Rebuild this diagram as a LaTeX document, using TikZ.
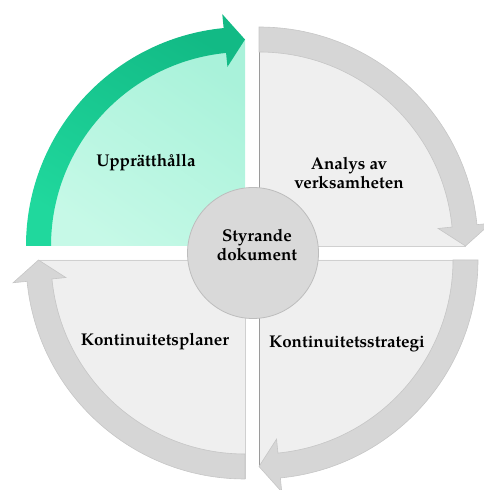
\documentclass[tikz,border=0pt]{standalone}
\usepackage{fontspec}
\setmainfont{texgyrepagella}[Extension=.otf, UprightFont=*-regular, BoldFont=*-bold]
\usetikzlibrary{calc}

\definecolor{mintA}{HTML}{A9F2DA}
\definecolor{mintB}{HTML}{C6F9E7}
\definecolor{greenA}{HTML}{20D89D}
\definecolor{greenB}{HTML}{12BA85}
\definecolor{paleGray}{HTML}{EFEFEF}
\definecolor{bandGray}{HTML}{D6D6D6}
\definecolor{bandEdge}{HTML}{C6C6C6}
\definecolor{coreFill}{HTML}{D9D9D9}
\definecolor{coreEdge}{HTML}{BDBDBD}
\definecolor{darkEdge}{HTML}{9A9A9A}
\definecolor{lightEdge}{HTML}{D0D0D0}

% ring geometry (pt)
\def\cyRout{219}
\def\cyRin{194}
\def\cyRmid{206.5}
\def\cyRhout{233}
\def\cyRhin{180}
\def\cyHead{5.6}

% curved arrow along a quarter ring: #1 corner, #2 start angle, #3 style
\newcommand{\cyclearrow}[3]{%
  \path[#3] ($(#1)+(#2:\cyRout)$)
    arc[start angle=#2, end angle={#2-90+\cyHead}, radius=\cyRout]
    -- ($(#1)+({#2-90+\cyHead}:\cyRhout)$)
    -- ($(#1)+({#2-90}:\cyRmid)$)
    -- ($(#1)+({#2-90+\cyHead}:\cyRhin)$)
    -- ($(#1)+({#2-90+\cyHead}:\cyRin)$)
    arc[start angle={#2-90+\cyHead}, end angle=#2, radius=\cyRin]
    -- cycle;}

% quarter sector behind an arrow: #1 corner, #2 start angle, #3 style
\newcommand{\cyclesector}[3]{%
  \path[#3] (#1) -- ($(#1)+(#2:\cyRmid)$)
    arc[start angle=#2, end angle={#2-90}, radius=\cyRmid] -- cycle;}

\tikzset{
  label/.style={font=\bfseries\fontsize{17}{19.5}\selectfont, align=center, text=black},
  grayband/.style={fill=bandGray, draw=bandEdge, line width=0.6pt},
  greenband/.style={draw=none, top color=greenB, bottom color=greenA, shading angle=-30},
}

\begin{document}
\begin{tikzpicture}[x=1pt,y=1pt]
  \useasboundingbox (0,0) rectangle (483,490);

  % quadrant corners
  \coordinate (tl) at (245,244);
  \coordinate (tr) at (259,244);
  \coordinate (br) at (259,230);
  \coordinate (bl) at (245,230);

  % quadrant fills
  \cyclesector{tl}{180}{top color=mintA, bottom color=mintB, shading angle=-35};
  \cyclesector{tr}{90}{fill=paleGray};
  \cyclesector{br}{0}{fill=paleGray};
  \cyclesector{bl}{-90}{fill=paleGray};

  % straight edges of the grey quadrants
  \draw[darkEdge, line width=0.8pt] (tr) -- ++(90:\cyRout);
  \draw[lightEdge, line width=0.7pt] (tr) -- ++(0:\cyRmid);
  \draw[darkEdge, line width=0.8pt] (br) -- ++(-90:\cyRmid);
  \draw[lightEdge, line width=0.7pt] (br) -- ++(0:\cyRout);
  \draw[lightEdge, line width=0.7pt] (bl) -- ++(180:\cyRmid);
  \draw[lightEdge, line width=0.5pt] (bl) -- ++(-90:\cyRout);

  % cycle arrows
  \cyclearrow{tl}{180}{greenband}
  \cyclearrow{tr}{90}{grayband}
  \cyclearrow{br}{0}{grayband}
  \cyclearrow{bl}{-90}{grayband}

  % centre
  \node[circle, minimum size=131pt, inner sep=0pt, fill=coreFill, draw=coreEdge, line width=0.8pt] (core) at (253,237) {};
  \node[label] (coretext) at (257,245) {Styrande\\dokument};

  % phase labels
  \node[label] (maintain) at (146,327) {Upprätthålla};
  \node[label] (analysis) at (349,317) {Analys av\\verksamheten};
  \node[label] (plans) at (155,148) {Kontinuitetsplaner};
  \node[label] (strategy) at (347,146) {Kontinuitetsstrategi};
\end{tikzpicture}
\end{document}
